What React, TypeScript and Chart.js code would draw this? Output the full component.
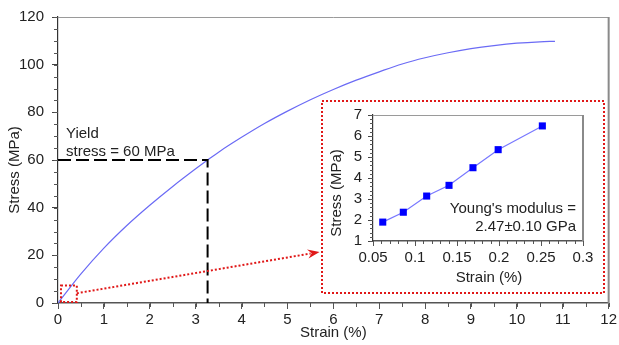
import React, { useEffect, useRef } from 'react';
import { Chart, registerables } from 'chart.js';
Chart.register(...registerables);

const FONT = "'Liberation Sans', Arial, sans-serif";
const TEXT = '#222';

// Main stress-strain curve
const strain = [0, 0.5, 1.0, 1.5, 2.0, 2.5, 3.0, 3.26, 3.5, 4.0, 4.5, 5.0, 5.5, 6.0, 6.5, 7.0, 7.5, 8.0, 8.5, 9.0, 9.5, 10.0, 10.5, 10.83];
const stress = [0, 12.2, 23.0, 32.5, 41.0, 48.9, 56.3, 60.0, 63.3, 69.5, 75.3, 80.5, 85.3, 89.6, 93.5, 97.0, 100.3, 102.9, 105.0, 106.7, 108.0, 109.0, 109.6, 109.8];
const xTicks = [0, 1, 2, 3, 4, 5, 6, 7, 8, 9, 10, 11, 12];
const yTicks = [0, 20, 40, 60, 80, 100, 120];

// Inset (elastic region)
const insetStrain = [0.0616, 0.0861, 0.1139, 0.1405, 0.169, 0.199, 0.2516];
const insetStress = [1.9, 2.37, 3.14, 3.65, 4.49, 5.35, 6.48];
const insetXTicks = [0.05, 0.1, 0.15, 0.2, 0.25, 0.3];
const insetXTickLabels = ['0.05', '0.1', '0.15', '0.2', '0.25', '0.3'];
const insetYTicks = [1, 2, 3, 4, 5, 6, 7];

// Annotations (data coordinates of main chart)
const yieldStrain = 3.26;
const yieldStress = 60;
const yieldLabel = ['Yield', 'stress = 60 MPa'];
const zoomBox = { x0: 0.065, x1: 0.41, y0: 0.4, y1: 7.3 };
const arrowFrom = { x: 0.41, y: 4.1 };
const arrowTo = { x: 5.7, y: 21.4 };
const modulusLabel = ["Young's modulus =", '2.47\u00b10.10 GPa'];

const RED = '#e01818';

function minorTicks(ctx: CanvasRenderingContext2D, chart: any, xStep: number, yStep: number, xMin: number, xMax: number, yMin: number, yMax: number, len: number) {
  const { x, y } = chart.scales;
  const a = chart.chartArea;
  ctx.strokeStyle = '#555';
  ctx.lineWidth = 1;
  ctx.beginPath();
  const nx = Math.round((xMax - xMin) / xStep);
  for (let i = 0; i <= nx; i++) {
    const v = xMin + i * xStep;
    const px = Math.round(x.getPixelForValue(v)) + 0.5;
    ctx.moveTo(px, a.bottom);
    ctx.lineTo(px, a.bottom + len);
  }
  const ny = Math.round((yMax - yMin) / yStep);
  for (let i = 0; i <= ny; i++) {
    const v = yMin + i * yStep;
    const py = Math.round(y.getPixelForValue(v)) + 0.5;
    ctx.moveTo(a.left, py);
    ctx.lineTo(a.left - len, py);
  }
  ctx.stroke();
}

function frame(ctx: CanvasRenderingContext2D, a: any) {
  ctx.strokeStyle = '#9a9a9a';
  ctx.lineWidth = 1;
  ctx.beginPath();
  ctx.moveTo(a.left, a.top + 0.5);
  ctx.lineTo(a.right, a.top + 0.5);
  ctx.stroke();
  ctx.strokeStyle = '#8a8a8a';
  ctx.lineWidth = 2;
  ctx.beginPath();
  ctx.moveTo(a.right, a.top);
  ctx.lineTo(a.right, a.bottom);
  ctx.stroke();
}

const mainDecor = {
  id: 'mainDecor',
  afterDraw(chart: any) {
    const { ctx, chartArea: a } = chart;
    const { x, y } = chart.scales;
    ctx.save();
    frame(ctx, a);
    minorTicks(ctx, chart, 0.5, 5, 0, 12, 0, 120, 4);

    // y title
    ctx.fillStyle = TEXT;
    ctx.font = `15px ${FONT}`;
    ctx.textAlign = 'center';
    ctx.textBaseline = 'middle';
    ctx.save();
    ctx.translate(15, (a.top + a.bottom) / 2 + 10);
    ctx.rotate(-Math.PI / 2);
    ctx.fillText('Stress (MPa)', 0, 0);
    ctx.restore();

    // yield dashed lines
    const yx = x.getPixelForValue(yieldStrain);
    const yy = y.getPixelForValue(yieldStress);
    ctx.strokeStyle = '#000';
    ctx.lineWidth = 2;
    ctx.setLineDash([13, 5]);
    ctx.beginPath();
    ctx.moveTo(x.getPixelForValue(0), yy);
    ctx.lineTo(yx, yy);
    ctx.lineTo(yx, y.getPixelForValue(0));
    ctx.stroke();
    ctx.setLineDash([]);

    // yield label
    ctx.textAlign = 'left';
    ctx.fillStyle = TEXT;
    const lx = x.getPixelForValue(0) + 8;
    ctx.fillText(yieldLabel[0], lx, yy - 26);
    ctx.fillText(yieldLabel[1], lx, yy - 8);

    // red zoom box
    ctx.strokeStyle = RED;
    ctx.lineWidth = 2;
    ctx.setLineDash([2, 2]);
    const bx0 = x.getPixelForValue(zoomBox.x0), bx1 = x.getPixelForValue(zoomBox.x1);
    const by0 = y.getPixelForValue(zoomBox.y0), by1 = y.getPixelForValue(zoomBox.y1);
    ctx.strokeRect(bx0, by1, bx1 - bx0, by0 - by1);

    // arrow
    const ax0 = x.getPixelForValue(arrowFrom.x), ay0 = y.getPixelForValue(arrowFrom.y);
    const ax1 = x.getPixelForValue(arrowTo.x), ay1 = y.getPixelForValue(arrowTo.y);
    const ang = Math.atan2(ay1 - ay0, ax1 - ax0);
    const L = 12;
    ctx.beginPath();
    ctx.moveTo(ax0, ay0);
    ctx.lineTo(ax1 - Math.cos(ang) * (L - 3), ay1 - Math.sin(ang) * (L - 3));
    ctx.stroke();
    ctx.setLineDash([]);
    ctx.fillStyle = RED;
    ctx.save();
    ctx.translate(ax1, ay1);
    ctx.rotate(ang);
    ctx.beginPath();
    ctx.moveTo(0, 0);
    ctx.lineTo(-L, -4.5);
    ctx.lineTo(-L + 4, 0);
    ctx.lineTo(-L, 4.5);
    ctx.closePath();
    ctx.fill();
    ctx.restore();
    ctx.restore();
  },
};

const insetDecor = {
  id: 'insetDecor',
  afterDraw(chart: any) {
    const { ctx, chartArea: a, width, height } = chart;
    ctx.save();
    frame(ctx, a);
    minorTicks(ctx, chart, 0.01, 0.2, 0.05, 0.3, 1, 7, 3);

    ctx.strokeStyle = RED;
    ctx.lineWidth = 2;
    ctx.setLineDash([2, 2]);
    ctx.strokeRect(1, 1, width - 2, height - 2);
    ctx.setLineDash([]);

    ctx.fillStyle = TEXT;
    ctx.font = `15px ${FONT}`;
    ctx.textBaseline = 'middle';
    ctx.textAlign = 'center';
    ctx.save();
    ctx.translate(16, (a.top + a.bottom) / 2 + 15);
    ctx.rotate(-Math.PI / 2);
    ctx.fillText('Stress (MPa)', 0, 0);
    ctx.restore();
    ctx.fillText('Strain (%)', (a.left + a.right) / 2 + 11, a.bottom + 37);

    ctx.textAlign = 'right';
    ctx.fillText(modulusLabel[0], a.right - 7, a.bottom - 32);
    ctx.fillText(modulusLabel[1], a.right - 7, a.bottom - 14);
    ctx.restore();
  },
};

const tickFont = { family: FONT, size: 15 };

export default function App() {
  const mainRef = useRef<HTMLCanvasElement>(null);
  const insetRef = useRef<HTMLCanvasElement>(null);

  useEffect(() => {
    const main = new Chart(mainRef.current!, {
      type: 'scatter',
      data: {
        datasets: [
          {
            data: strain.map((s, i) => ({ x: s, y: stress[i] })),
            showLine: true,
            borderColor: '#6b6bf5',
            borderWidth: 1.2,
            pointRadius: 0,
            cubicInterpolationMode: 'monotone',
          },
        ],
      },
      options: {
        responsive: false,
        animation: false,
        layout: { padding: { left: 0, top: 9, right: 9, bottom: 0 } },
        plugins: { legend: { display: false }, tooltip: { enabled: false } },
        scales: {
          x: {
            type: 'linear',
            min: 0,
            max: 12,
            afterFit: (s: any) => { s.height = 42; },
            afterBuildTicks: (s: any) => { s.ticks = xTicks.map((v) => ({ value: v })); },
            ticks: { font: tickFont, color: TEXT, padding: 2, maxRotation: 0, autoSkip: false },
            grid: { drawOnChartArea: false, tickLength: 6, tickColor: '#555', tickWidth: 1 },
            border: { color: '#555', width: 1.5 },
            title: { display: true, text: 'Strain (%)', font: tickFont, color: TEXT, padding: { top: 0, bottom: 3 } },
          },
          y: {
            type: 'linear',
            min: 0,
            max: 120,
            afterFit: (s: any) => { s.width = 58; },
            afterBuildTicks: (s: any) => { s.ticks = yTicks.map((v) => ({ value: v })); },
            ticks: { font: tickFont, color: TEXT, padding: 8, autoSkip: false },
            grid: { drawOnChartArea: false, tickLength: 6, tickColor: '#444', tickWidth: 1 },
            border: { color: '#333', width: 1.2 },
          },
        },
      },
      plugins: [mainDecor],
    } as any);

    const inset = new Chart(insetRef.current!, {
      type: 'scatter',
      data: {
        datasets: [
          {
            data: insetStrain.map((s, i) => ({ x: s, y: insetStress[i] })),
            showLine: true,
            borderColor: '#7878ff',
            borderWidth: 1.2,
            pointStyle: 'rect',
            pointRadius: 5,
            pointBackgroundColor: '#0000ff',
            pointBorderWidth: 0,
            tension: 0,
          },
        ],
      },
      options: {
        responsive: false,
        animation: false,
        layout: { padding: { left: 0, top: 15, right: 22, bottom: 0 } },
        plugins: { legend: { display: false }, tooltip: { enabled: false } },
        scales: {
          x: {
            type: 'linear',
            min: 0.05,
            max: 0.3,
            afterFit: (s: any) => { s.height = 53; },
            afterBuildTicks: (s: any) => { s.ticks = insetXTicks.map((v) => ({ value: v })); },
            ticks: {
              font: tickFont,
              color: TEXT,
              padding: 3,
              maxRotation: 0,
              autoSkip: false,
              callback: (_v: any, i: number) => insetXTickLabels[i],
            },
            grid: { drawOnChartArea: false, tickLength: 5, tickColor: '#555', tickWidth: 1 },
            border: { color: '#555', width: 1.5 },
          },
          y: {
            type: 'linear',
            min: 1,
            max: 7,
            afterFit: (s: any) => { s.width = 52; },
            afterBuildTicks: (s: any) => { s.ticks = insetYTicks.map((v) => ({ value: v })); },
            ticks: { font: tickFont, color: TEXT, padding: 6, autoSkip: false },
            grid: { drawOnChartArea: false, tickLength: 5, tickColor: '#444', tickWidth: 1 },
            border: { color: '#333', width: 1.2 },
          },
        },
      },
      plugins: [insetDecor],
    } as any);

    return () => {
      main.destroy();
      inset.destroy();
    };
  }, []);

  return (
    <div style={{ position: 'absolute', left: 0, top: 0, width: 619, height: 345, background: '#fff' }}>
      <canvas ref={mainRef} width={619} height={345} style={{ position: 'absolute', left: 0, top: 0, width: 619, height: 345 }} />
      <canvas ref={insetRef} width={284} height={194} style={{ position: 'absolute', left: 321, top: 100, width: 284, height: 194, background: '#fff' }} />
    </div>
  );
}
